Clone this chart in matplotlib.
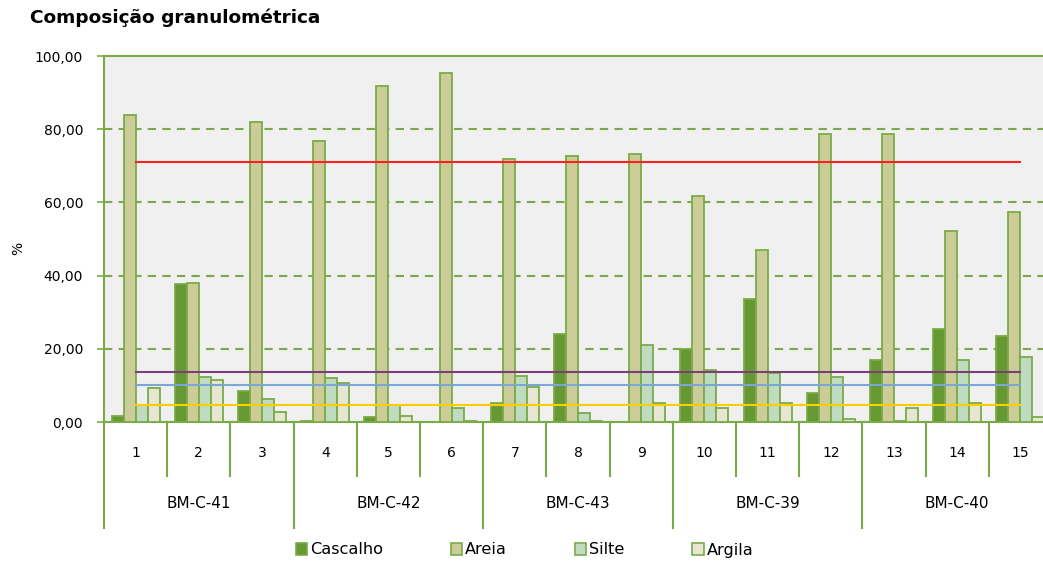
import matplotlib.pyplot as plt
import numpy as np
from matplotlib.patches import Rectangle
import matplotlib.transforms as mtransforms

amostras = ['1', '2', '3', '4', '5', '6', '7', '8', '9', '10', '11', '12', '13', '14', '15']
furos = ['BM-C-41', 'BM-C-42', 'BM-C-43', 'BM-C-39', 'BM-C-40']

cascalho = [1.7, 37.7, 8.4, 0.4, 1.4, 0.0, 5.3, 24.0, 0.0, 19.9, 33.7, 8.0, 16.9, 25.3, 23.6]
areia = [84.0, 38.1, 82.0, 76.9, 91.9, 95.4, 71.9, 72.8, 73.1, 61.7, 47.0, 78.6, 78.6, 52.2, 57.4]
silte = [4.6, 12.4, 6.2, 11.9, 4.6, 3.9, 12.7, 2.4, 21.1, 14.2, 13.5, 12.4, 0.4, 16.9, 17.7]
argila = [9.2, 11.5, 2.8, 10.6, 1.7, 0.35, 9.6, 0.4, 5.3, 3.9, 5.3, 0.8, 3.9, 5.3, 1.3]

series_nomes = ['Cascalho', 'Areia', 'Silte', 'Argila']
cores = ['#669933', '#cccc99', '#c0dcc0', '#e6e6d2']
borda = '#7aab48'

# linhas de referencia (medias)
ref_vals = [71.0, 13.6, 10.0, 4.7]
ref_cores = ['#ff2020', '#7a3f7a', '#7aa6d8', '#ffcc00']

W, H = 1043, 563
fig = plt.figure(figsize=(W / 100, H / 100), dpi=100)
plt.rcParams['font.family'] = ['DejaVu Sans']

x0, x1 = 104, 1052
y0, y1 = 422, 56
ax = fig.add_axes([x0 / W, (H - y0) / H, (x1 - x0) / W, (y0 - y1) / H])
ax.set_facecolor('#f0f0f0')

n = len(amostras)
xc = np.arange(n) + 0.5
bw = 0.19
dados = [cascalho, areia, silte, argila]
for k, vals in enumerate(dados):
    ax.bar(xc + (k - 1.5) * bw, vals, width=bw, color=cores[k], edgecolor=borda,
           linewidth=1.3, zorder=3)

for v, c in zip(ref_vals, ref_cores):
    ax.plot([xc[0], xc[-1]], [v, v], color=c, linewidth=1.5, zorder=4)

ax.set_xlim(0, n)
ax.set_ylim(0, 100)
ax.set_yticks(np.arange(0, 101, 20))
ax.set_yticklabels(['0,00', '20,00', '40,00', '60,00', '80,00', '100,00'], fontsize=10)
for y in [20, 40, 60, 80]:
    ax.axhline(y, color='#7aa84a', linewidth=1.5, linestyle=(0, (4, 3)), zorder=2)
ax.tick_params(axis='y', length=5, color='#7aab48', width=1.2, pad=10)
ax.set_xticks([])
for s in ['top', 'left', 'bottom']:
    ax.spines[s].set_color('#7aab48')
    ax.spines[s].set_linewidth(1.5)
ax.spines['right'].set_visible(False)
fig.text(18 / W, 1 - 248 / H, '%', fontsize=10, rotation=90, ha='center', va='center')

trans = mtransforms.blended_transform_factory(ax.transData, ax.transAxes)
hpx = y0 - y1
for i, lab in enumerate(amostras):
    ax.text(xc[i], -31 / hpx, lab, transform=trans, ha='center', va='center', fontsize=10)
for g, lab in enumerate(furos):
    ax.text(g * 3 + 1.5, -81 / hpx, lab, transform=trans, ha='center', va='center', fontsize=11)
for i in range(n + 1):
    if i % 3 == 0:
        yb = -106 / hpx
    else:
        yb = -54 / hpx
    ax.plot([i, i], [0, yb], transform=trans, color='#7aab48', linewidth=1.5, clip_on=False)

fig.text(30 / W, 1 - 18 / H, 'Composição granulométrica', fontsize=13.3, fontweight='bold',
         ha='left', va='center')

handles = [Rectangle((0, 0), 1, 1, facecolor=cores[k], edgecolor=borda, linewidth=1.2)
           for k in range(4)]
fig.legend(handles, series_nomes, loc='center', bbox_to_anchor=(0.503, 1 - 550 / H),
           ncol=4, frameon=False, fontsize=11.6, handlelength=0.7, handleheight=0.7,
           handletextpad=0.2, columnspacing=4.2)

fig.savefig('out.png', dpi=100)
